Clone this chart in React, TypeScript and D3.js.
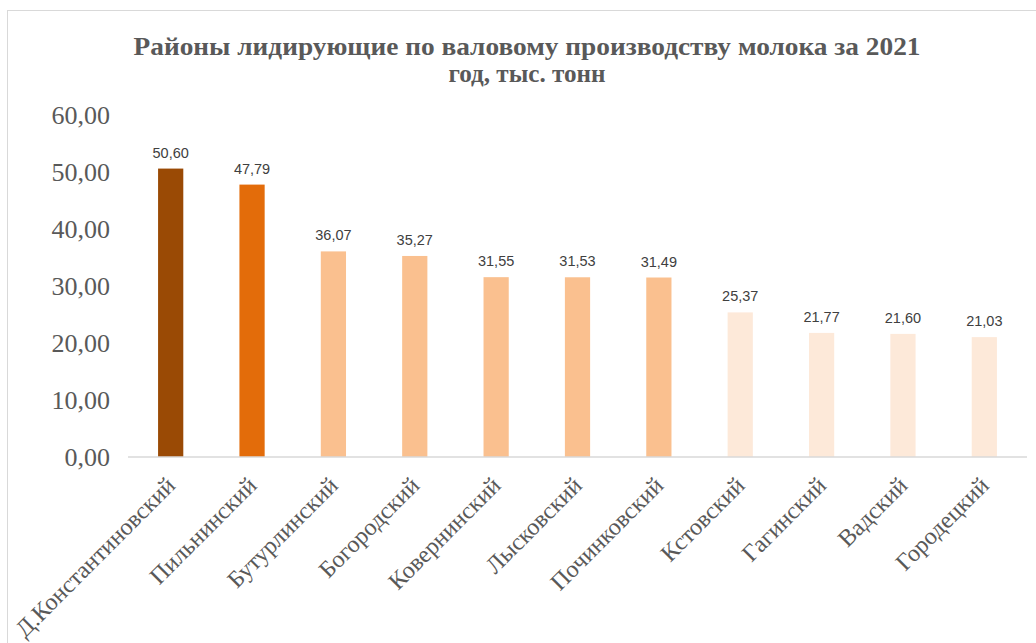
import React from 'react'
import * as d3 from 'd3'

const TITLE_LINES = ['Районы лидирующие по валовому производству молока за 2021', 'год, тыс. тонн']
const DISTRICTS = [
  'Д.Константиновский', 'Пильнинский', 'Бутурлинский', 'Богородский', 'Ковернинский',
  'Лысковский', 'Починковский', 'Кстовский', 'Гагинский', 'Вадский', 'Городецкий',
]
const VALUES = [50.6, 47.79, 36.07, 35.27, 31.55, 31.53, 31.49, 25.37, 21.77, 21.6, 21.03]
const Y_TICKS = [0, 10, 20, 30, 40, 50, 60]
const BAR_COLORS = [
  '#9a4a05', '#e36c0a', '#fac08f', '#fac08f', '#fac08f', '#fac08f', '#fac08f',
  '#fde9d9', '#fde9d9', '#fde9d9', '#fde9d9',
]

const W = 1036
const H = 643
const PLOT = { left: 130, right: 1025, top: 115, bottom: 457 }

const fmt = (v: number) => v.toFixed(2).replace('.', ',')

export default function App() {
  const x = d3.scaleBand<string>()
    .domain(DISTRICTS)
    .range([PLOT.left, PLOT.right])
    .paddingInner(0.69)
    .paddingOuter(0.345)

  const y = d3.scaleLinear().domain([0, 60]).range([PLOT.bottom, PLOT.top])

  const serif = '"Liberation Serif", "Times New Roman", serif'
  const sans = '"Liberation Sans", Arial, sans-serif'

  return (
    <svg width={W} height={H} style={{ position: 'absolute', left: 0, top: 0, background: '#fff' }}>
      {/* chart frame, cropped at right and bottom */}
      <rect x={7.5} y={10.5} width={W + 20} height={H + 20} fill="#fff" stroke="#d9d9d9" />

      {TITLE_LINES.map((t, i) => (
        <text
          key={i}
          x={527}
          y={55 + i * 27}
          textAnchor="middle"
          fontFamily={serif}
          fontWeight="bold"
          fontSize={25}
          fill="#595959"
          textLength={i === 0 ? 787 : 157}
          lengthAdjust="spacingAndGlyphs"
        >
          {t}
        </text>
      ))}

      {/* y tick labels */}
      {Y_TICKS.map(t => (
        <text
          key={t}
          x={110}
          y={y(t)}
          dy="0.35em"
          textAnchor="end"
          fontFamily={serif}
          fontSize={26}
          fill="#595959"
        >
          {fmt(t)}
        </text>
      ))}

      {/* bars */}
      {DISTRICTS.map((d, i) => (
        <rect
          key={d}
          x={x(d)}
          y={y(VALUES[i])}
          width={x.bandwidth()}
          height={y(0) - y(VALUES[i])}
          fill={BAR_COLORS[i]}
        />
      ))}

      {/* baseline */}
      <line x1={PLOT.left - 2} x2={PLOT.right + 2} y1={y(0)} y2={y(0)} stroke="#d9d9d9" strokeWidth={1.5} />

      {/* value labels */}
      {DISTRICTS.map((d, i) => (
        <text
          key={d}
          x={(x(d) ?? 0) + x.bandwidth() / 2}
          y={y(VALUES[i]) - 11}
          textAnchor="middle"
          fontFamily={sans}
          fontSize={14.5}
          fill="#404040"
        >
          {fmt(VALUES[i])}
        </text>
      ))}

      {/* category labels */}
      {DISTRICTS.map(d => {
        const cx = (x(d) ?? 0) + x.bandwidth() / 2
        return (
          <text
            key={d}
            transform={`translate(${cx},${y(0) + 24}) rotate(-45)`}
            textAnchor="end"
            dy="0.35em"
            fontFamily={serif}
            fontSize={24}
            fill="#595959"
          >
            {d}
          </text>
        )
      })}
    </svg>
  )
}
